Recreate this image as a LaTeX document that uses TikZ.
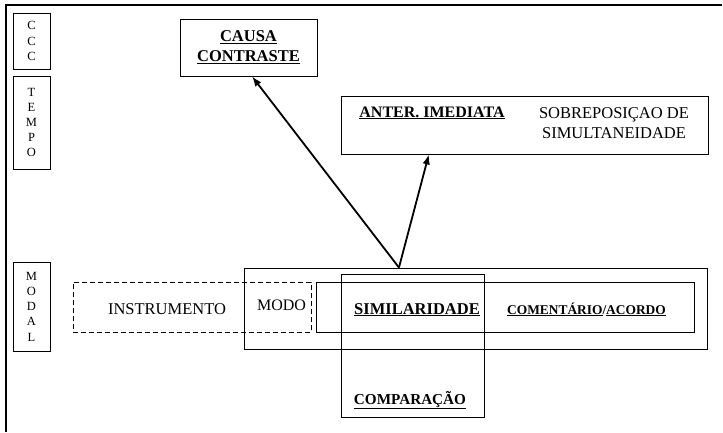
\documentclass[tikz,border=0pt]{standalone}
\usepackage{fontspec}
\setmainfont{Liberation Serif}
\usetikzlibrary{arrows.meta,calc}

\begin{document}
\begin{tikzpicture}[x=1pt,y=-1pt]
\tikzset{caixa/.style={draw, line width=0.9pt, inner sep=0pt},
  letras/.style={caixa, align=center, font=\fontsize{12.5}{15.2}\selectfont},
  rotulo/.style={inner sep=0pt, anchor=base, font=\fontsize{16.5}{20}\selectfont},
  seta/.style={line width=1.8pt, -{Latex[length=10pt,width=7.5pt]}}}
\useasboundingbox (0,0) rectangle (723,432);
\draw[line width=1.2pt] (722,5) -- (6,5) -- (6,432);
% colunas da esquerda
\node[letras, minimum width=37pt, minimum height=56pt] (ccc) at (31.5,41) {C\\C\\C};
\node[letras, minimum width=37pt, minimum height=93pt] (tempo) at (31.5,122.5) {T\\E\\M\\P\\O};
\node[letras, minimum width=37pt, minimum height=89pt] (modal) at (31.5,306.5) {M\\O\\D\\A\\L};
% caixas de cima
\node[caixa, align=center, minimum width=137pt, minimum height=57pt, font=\fontsize{16.5}{20}\selectfont\bfseries] (causa) at (248.5,47.5) {\underline{CAUSA}\\\underline{CONTRASTE}};
\node[caixa, minimum width=367pt, minimum height=58pt] (anter) at (524.5,125) {};
\node[rotulo, font=\fontsize{16}{20}\selectfont\bfseries] (imediata) at (432,117) {\underline{ANTER. IMEDIATA}};
\node[inner sep=0pt, align=center, font=\fontsize{16.5}{20.5}\selectfont] (sobrepos) at (614,123) {SOBREPOSIÇAO DE\\SIMULTANEIDADE};
% caixas de baixo
\node[caixa, dash pattern=on 5pt off 3pt, minimum width=238pt, minimum height=50pt] (instr) at (192,307) {};
\node[caixa, minimum width=463pt, minimum height=81pt] (grande) at (475.5,308.5) {};
\node[caixa, minimum width=378pt, minimum height=50pt] (interno) at (505,307) {};
\node[caixa, minimum width=143pt, minimum height=143pt] (compar) at (412.5,345.5) {};
\node[rotulo] (instrumento) at (167,314) {INSTRUMENTO};
\node[rotulo, font=\fontsize{16}{20}\selectfont] (modo) at (281.5,310) {MODO};
\node[rotulo, font=\fontsize{16.5}{20}\selectfont\bfseries] (simil) at (417,314) {\underline{SIMILARIDADE}};
\node[rotulo, font=\fontsize{13.4}{16}\selectfont\bfseries] (coment) at (586.5,314) {\underline{COMENTÁRIO}/\underline{ACORDO}};
\node[rotulo, font=\fontsize{15.2}{18}\selectfont\bfseries] (comparacao) at (410,404) {\underline{COMPARAÇÃO}};
% setas
\coordinate (topo) at ($(grande.north west)!0.335!(grande.north east)$);
\draw[seta] (topo) -- ($(causa.south west)!0.526!(causa.south east)$);
\draw[seta] (topo) -- ($(anter.south west)!0.24!(anter.south east)$);
\end{tikzpicture}
\end{document}
